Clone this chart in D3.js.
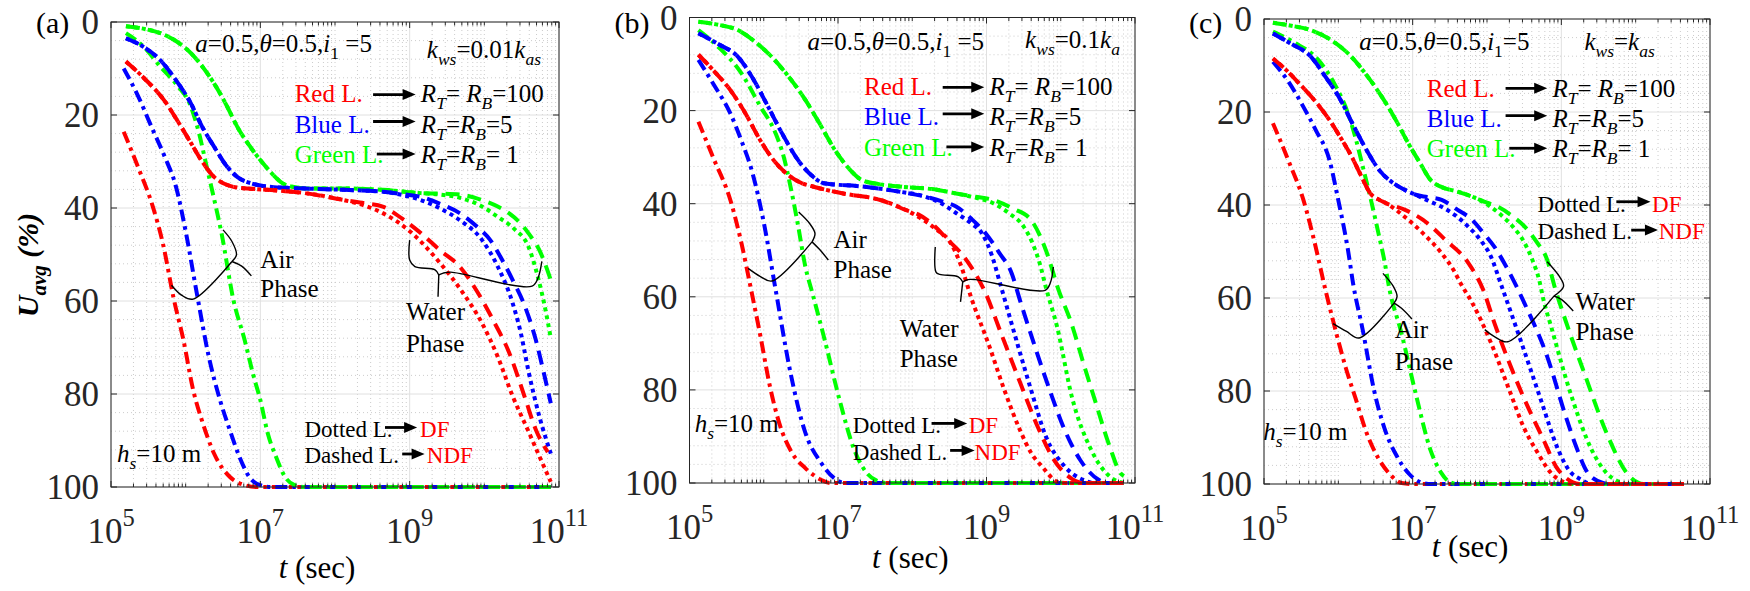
<!DOCTYPE html>
<html lang="en">
<head>
<meta charset="UTF-8">
<title>Average degree of consolidation</title>
<script src="https://d3js.org/d3.v7.min.js"></script>
<style>
  body { margin: 0; background: #fff; }
  svg { display: block; }
  svg text { font-family: "Liberation Serif", "DejaVu Serif", "Times New Roman", serif; }
  .grid-major { stroke: #e0e0e0; stroke-width: 1; }
  .grid-minor { stroke: #c6c6c6; stroke-width: 0.9; stroke-dasharray: 1,3; }
  .frame { stroke: #262626; stroke-width: 1; fill: none; }
  .tick { stroke: #262626; stroke-width: 1; }
  .curve { fill: none; stroke-width: 4; }
  .air { stroke-dasharray: 12,5,3.5,5; }
  .df { stroke-dasharray: 4,4; }
  .ndf { stroke-dasharray: 14,8; }
  .brace { fill: none; stroke: #000; stroke-width: 1.4; }
</style>
</head>
<body>
<svg width="1750" height="591" font-family="Liberation Serif, DejaVu Serif, serif"></svg>
<script>
// all points are [log10(t in sec), Uavg %]
// ---- (a) kws = 0.01 kas
const airRedA = [[5.17,23.6],[5.37,31.5],[5.56,39.7],[5.7,48],[5.84,59.5],[5.97,68.4],[6.1,79.1],[6.23,86.3],[6.38,92.8],[6.59,97.8],[6.79,99.6],[6.95,100],[10.89,100]];
const airBlueA = [[5.17,10],[5.35,15.5],[5.56,23.2],[5.72,29],[5.87,35.4],[6.0,45],[6.15,58.4],[6.31,72],[6.46,81.3],[6.59,87.7],[6.72,93.5],[6.85,97.8],[7.0,99.6],[7.15,100],[10.89,100]];
const airGreenA = [[5.2,2.4],[5.45,5.5],[5.66,9.6],[5.88,13.5],[6.07,18.2],[6.18,24],[6.28,31],[6.38,38],[6.48,45.4],[6.64,59.8],[6.79,68.4],[6.9,75.6],[7.0,81.3],[7.1,88.5],[7.21,93.5],[7.33,97.8],[7.46,99.6],[7.6,100],[10.89,100]];
const waterRedA = [[5.2,8.5],[5.45,12.2],[5.71,16.8],[5.9,21.5],[6.07,26],[6.22,30],[6.38,33.3],[6.55,35],[6.69,35.6],[7.1,36.1],[7.6,36.8],[8.12,38.3]];
const dfRedA = [[8.4,39.5],[8.64,41.1],[9.03,45.4],[9.41,51.9],[9.72,58.4],[9.97,64.8],[10.18,72],[10.38,80.5],[10.59,88],[10.74,93.5],[10.89,98.9]];
const ndfRedA = [[8.4,39],[8.64,39.7],[8.9,42.3],[9.15,45.4],[9.4,49],[9.67,52.6],[9.92,58.4],[10.13,64.5],[10.33,71],[10.54,80.6],[10.69,87.7],[10.85,92.5]];
const waterBlueA = [[5.2,3.5],[5.45,5.5],[5.66,8.2],[5.87,12.5],[6.07,17.5],[6.22,22.5],[6.38,26.8],[6.55,31],[6.69,33.3],[6.9,34.8],[7.1,35.4],[7.6,35.8],[8.12,36.1],[8.64,36.5]];
const dfBlueA = [[8.9,37.2],[9.15,38.3],[9.42,40.2],[9.67,42.6],[9.97,46.9],[10.18,52.6],[10.38,60.5],[10.49,67],[10.59,75],[10.74,85],[10.89,92.8]];
const ndfBlueA = [[8.9,37],[9.15,37.6],[9.42,39.2],[9.67,41.1],[9.9,44],[10.08,46.9],[10.25,51.5],[10.38,55.5],[10.54,61],[10.69,68.4],[10.79,75],[10.89,82]];
const waterGreenA = [[5.2,0.9],[5.45,1.5],[5.66,2.4],[5.88,4.2],[6.07,6.7],[6.22,9.5],[6.38,13.2],[6.55,18],[6.69,22.5],[6.85,26.5],[7.0,29.7],[7.15,32.5],[7.3,34.7],[7.45,35.5],[7.6,35.8],[8.12,35.8],[8.64,36.1],[9.15,36.8]];
const dfGreenA = [[9.4,37.1],[9.67,37.8],[9.95,39.5],[10.18,41.9],[10.4,44.5],[10.59,48.3],[10.72,55],[10.82,62],[10.89,68]];
const ndfGreenA = [[9.4,36.9],[9.67,37.1],[9.95,38.2],[10.18,39.7],[10.4,42],[10.59,45.4],[10.75,49.5],[10.89,55.5]];

// ---- (b) kws = 0.1 ka
const airRedB = [[5.12,22.4],[5.33,30.5],[5.55,39.2],[5.7,48.5],[5.83,58.5],[5.95,68],[6.08,79],[6.21,87.2],[6.38,93.5],[6.56,96.8],[6.77,99.3],[6.9,100],[10.85,100]];
const airBlueB = [[5.12,9.1],[5.33,14.5],[5.55,20.6],[5.7,26.5],[5.85,33.5],[6.0,44],[6.16,58.5],[6.36,76.3],[6.56,89.2],[6.77,95.6],[6.97,99.2],[7.1,100],[10.85,100]];
const airGreenB = [[5.12,2.7],[5.4,6.5],[5.7,12],[5.95,19],[6.16,24.9],[6.27,30],[6.36,36.3],[6.46,44.5],[6.56,53.5],[6.66,59.5],[6.82,69.2],[7.02,82.1],[7.22,92.9],[7.37,97.5],[7.52,99.5],[7.65,100],[10.85,100]];
const waterRedB = [[5.12,8],[5.33,11.5],[5.55,15.6],[5.75,20.5],[5.95,26.3],[6.15,31],[6.36,34.2],[6.5,35.5],[6.66,36.3],[7.07,37.8],[7.57,39.2],[7.92,41.4]];
const dfRedB = [[8.1,43],[8.33,45.6],[8.5,48],[8.65,53],[8.79,60],[9.04,70.7],[9.24,80],[9.45,88.6],[9.6,93.5],[9.75,96.5],[9.95,99.7],[10.05,100],[10.85,100]];
const ndfRedB = [[8.08,42.3],[8.28,44.5],[8.48,47.8],[8.65,50.5],[8.79,53.5],[8.99,59.3],[9.19,67.6],[9.45,78.3],[9.7,88.3],[9.9,94.8],[10.15,99.1],[10.3,100],[10.85,100]];
const waterBlueB = [[5.12,3.4],[5.4,5.8],[5.65,8.4],[5.85,13],[6.06,19.2],[6.25,25],[6.46,30.6],[6.65,34],[6.81,35.6],[7.32,36.3],[7.82,37.4],[8.18,38.5]];
const dfBlueB = [[8.4,40],[8.59,42],[8.8,44.3],[8.94,46.4],[9.07,51],[9.19,57.5],[9.4,69.2],[9.6,80],[9.8,90],[10.05,96.4],[10.3,99.3],[10.45,100],[10.85,100]];
const ndfBlueB = [[8.4,39.5],[8.59,40.6],[8.8,43.3],[8.99,46.4],[9.17,50.5],[9.34,55],[9.45,60.7],[9.65,70.6],[9.85,80],[10.05,88.5],[10.26,95],[10.51,99.3],[10.65,100],[10.85,100]];
const waterGreenB = [[5.12,0.9],[5.4,1.6],[5.65,2.7],[5.85,4.8],[6.06,7.7],[6.3,12],[6.56,17.7],[6.76,23],[6.96,28.5],[7.15,32.5],[7.32,34.9],[7.55,35.8],[7.82,36.3],[8.33,37],[8.59,37.8]];
const dfGreenB = [[8.85,38.7],[9.09,39.9],[9.3,42],[9.5,44.9],[9.62,48.5],[9.72,53],[9.8,58],[9.95,66.4],[10.15,81.5],[10.41,92.9],[10.66,98.6],[10.85,100]];
const ndfGreenB = [[8.85,38.5],[9.09,39.2],[9.35,41],[9.6,43.5],[9.8,50],[9.97,58.5],[10.15,66],[10.3,74],[10.46,82.2],[10.66,92.2],[10.81,98],[10.85,98.5]];

// ---- (c) kws = kas
const airRedC = [[5.12,22.4],[5.33,30.5],[5.53,38.9],[5.68,48],[5.83,58.5],[5.98,68],[6.1,75],[6.23,81.5],[6.38,89],[6.54,94.5],[6.7,98],[6.85,99.8],[7.0,100],[10.65,100]];
const airBlueC = [[5.12,9.2],[5.33,13.5],[5.53,18.9],[5.7,24],[5.88,30.3],[6.0,39],[6.13,49.7],[6.2,57],[6.33,67],[6.48,79.8],[6.62,88],[6.79,94.1],[6.95,97.8],[7.14,99.8],[7.25,100],[10.65,100]];
const airGreenC = [[5.12,2.7],[5.4,5],[5.73,8.8],[5.95,14],[6.13,20.3],[6.23,25.5],[6.33,31.8],[6.44,39],[6.54,46.1],[6.62,52],[6.69,58.3],[6.84,67],[7.04,80.5],[7.24,92.7],[7.38,97.5],[7.49,99.5],[7.6,100],[10.65,100]];
const waterRedC = [[5.12,8.5],[5.3,11],[5.47,13.8],[5.68,17.5],[5.88,21.7],[6.03,25.5],[6.18,29.6],[6.3,33.5],[6.43,37.5],[6.54,38.8],[6.64,39.6]];
const dfRedC = [[6.89,42.5],[7.14,46.1],[7.39,50.4],[7.55,54],[7.65,57],[7.8,61],[8.05,69.5],[8.3,79.8],[8.5,88],[8.66,92.7],[8.91,98.4],[9.16,100],[10.65,100]];
const ndfRedC = [[6.89,41],[7.14,43.2],[7.44,47.5],[7.75,52.5],[7.95,58.3],[8.1,65.4],[8.45,79.8],[8.76,90.5],[8.96,97],[9.26,100],[10.65,100]];
const waterBlueC = [[5.12,3.1],[5.35,5.2],[5.63,8.1],[5.83,12.5],[6.03,17.4],[6.2,22.8],[6.38,28.2],[6.55,32.5],[6.74,35.3],[6.9,36.8],[7.04,37.8]];
const dfBlueC = [[7.2,39],[7.39,40.4],[7.58,42.3],[7.75,44.7],[7.9,47.3],[8.05,51],[8.2,57.6],[8.45,69],[8.71,81.2],[8.96,92.7],[9.1,97],[9.26,99],[9.4,100],[10.65,100]];
const ndfBlueC = [[7.2,38.3],[7.39,38.9],[7.6,41],[7.8,43.2],[7.95,46],[8.1,49],[8.25,53],[8.4,57.6],[8.5,61],[8.81,72.6],[9.06,85.5],[9.2,92],[9.36,97.7],[9.55,99.7],[9.67,100],[10.65,100]];
const waterGreenC = [[5.12,0.8],[5.35,1.4],[5.63,2.4],[5.9,4.5],[6.13,7.4],[6.4,12.5],[6.64,18.1],[6.8,22.5],[6.94,26.7],[7.1,31],[7.24,34.6],[7.4,36.2],[7.6,37.1],[7.8,38.2]];
const dfGreenC = [[8.05,40.4],[8.2,42.3],[8.35,44.7],[8.5,48],[8.61,51.8],[8.7,56],[8.76,60.4],[8.86,66],[9.11,79.8],[9.41,92.7],[9.6,97.5],[9.77,99.5],[9.9,100],[10.65,100]];
const ndfGreenC = [[8.0,39.5],[8.15,40.4],[8.35,42.5],[8.51,44.7],[8.67,48],[8.81,51.8],[8.91,57.6],[9.06,65],[9.31,76.2],[9.61,89.1],[9.92,98.4],[10.12,100],[10.65,100]];

const xTicks = [1e5, 1e7, 1e9, 1e11];
const xTickExp = ["5", "7", "9", "11"];
const yTicks = [0, 20, 40, 60, 80, 100];

const RED = "#ff0000", BLUE = "#0000ff", GREEN = "#00ff00";

// braces drawn along data coordinates
const bracesA = [
  [[6.50,44.7],[6.62,47.2],[6.68,50.1],[6.62,51.5]], [[6.62,51.5],[6.75,52.5],[6.88,54.6]],
  [[6.62,51.5],[6.10,59.6],[5.95,58.8],[5.81,56.6]],
  [[9.0,46.9],[9.0,51.2],[9.07,52.6],[9.34,53.3],[9.39,54.4]], [[9.39,54.4],[9.38,59.1]],
  [[9.39,54.4],[9.45,54.0],[9.55,53.8],[10.64,56.8],[10.72,55],[10.77,51.5]]
];
const bracesB = [
  [[6.47,41.8],[6.62,44.3],[6.69,46.4],[6.65,48.2]], [[6.65,48.2],[6.75,49.8],[6.87,52.1]],
  [[6.65,48.2],[6.11,56.6],[5.95,55.6],[5.79,53.9]],
  [[8.31,49.3],[8.32,54.7],[8.37,55.2],[8.62,55.7],[8.68,56.8]], [[8.68,56.8],[8.65,61.1]],
  [[8.68,56.8],[8.75,56.3],[8.85,56.3],[9.79,58.6],[9.86,57],[9.9,53.6]]
];
const bracesC = [
  [[6.60,54.7],[6.74,57.5],[6.79,59.7],[6.75,61.1]], [[6.75,61.1],[6.85,62.2],[6.99,64.5]],
  [[6.75,61.1],[6.28,68.6],[6.11,67.2],[5.93,65.5]],
  [[8.81,52.2],[8.98,55.5],[9.03,57.5],[8.90,59.6]], [[8.90,59.6],[9.0,60.3],[9.16,62.8]],
  [[8.90,59.6],[8.28,69.4],[8.1,68.3],[7.97,66.8]]
];

const panels = [
  {
    name: "(a)", left: 111, right: 559, top: 22, bottom: 487, xlabShift: -18, xlabY: 578,
    air: [airRedA, airBlueA, airGreenA],
    water: [[waterGreenA, dfGreenA, ndfGreenA, GREEN], [waterBlueA, dfBlueA, ndfBlueA, BLUE], [waterRedA, dfRedA, ndfRedA, RED]],
    params: [6.13, 6.4, " =5"], kws: [9.23, 7.8, "=0.01", "as"],
    legend: { label: 7.46, a0: [8.51, 8.51, 8.56], a1: 9.08, r: 9.15, rows: [17.1, 23.8, 30.3], arrows: [15.6, 21.4, 28.4] },
    air_txt: [7.0, 53, 59.1], water_txt: [8.95, 64.1, 70.9], hs: [5.08, 94.6],
    lines: { x: 7.59, rows: [89.2, 94.9], arrows: [[8.67, 9.1, 87.2], [8.9, 9.2, 92.9]], ends: [9.14, 9.23] },
    braces: bracesA, ylabel: true
  },
  {
    name: "(b)", left: 689.5, right: 1135, top: 17.5, bottom: 483, xlabShift: -2, xlabY: 568,
    air: [airRedB, airBlueB, airGreenB],
    water: [[waterGreenB, dfGreenB, ndfGreenB, GREEN], [waterBlueB, dfBlueB, ndfBlueB, BLUE], [waterRedB, dfRedB, ndfRedB, RED]],
    params: [6.59, 7.0, " =5"], kws: [9.52, 6.6, "=0.1", "a"],
    legend: { label: 7.35, a0: [8.41, 8.41, 8.46], a1: 8.97, r: 9.04, rows: [16.6, 23.1, 29.7], arrows: [15, 20.7, 27.8] },
    air_txt: [6.94, 49.6, 56], water_txt: [7.83, 68.6, 75], hs: [5.07, 89],
    lines: { x: 7.2, rows: [89.3, 95], arrows: [[8.26, 8.74, 87.2], [8.51, 8.84, 93]], ends: [8.76, 8.84] },
    braces: bracesB, ylabel: false
  },
  {
    name: "(c)", left: 1264, right: 1710, top: 19, bottom: 484, xlabShift: -17, xlabY: 557,
    air: [airRedC, airBlueC, airGreenC],
    water: [[waterGreenC, dfGreenC, ndfGreenC, GREEN], [waterBlueC, dfBlueC, ndfBlueC, BLUE], [waterRedC, dfRedC, ndfRedC, RED]],
    params: [6.28, 6.7, "=5"], kws: [9.31, 6.7, "=", "as"],
    legend: { label: 7.19, a0: [8.25, 8.25, 8.30], a1: 8.81, r: 8.88, rows: [16.7, 23.3, 29.7], arrows: [14.9, 20.8, 27.8] },
    air_txt: [6.76, 68.7, 75.5], water_txt: [9.19, 62.6, 69], hs: [4.99, 90.5],
    lines: { x: 8.68, rows: [41.4, 47.4], arrows: [[9.74, 10.2, 39.3], [9.94, 10.3, 45.4]], ends: [10.22, 10.31] },
    braces: bracesC, ylabel: false
  }
];

const svg = d3.select("svg");
const FONT = "'Liberation Serif', 'DejaVu Serif', serif";

// text with italic / sub / superscript pieces
function rich(g, x, y, parts, size, anchor) {
  const t = g.append("text").attr("x", x).attr("y", y).attr("font-size", size)
    .attr("fill", "#000").style("font-family", FONT);
  if (anchor) t.attr("text-anchor", anchor);
  let shift = 0;
  parts.forEach(p => {
    const s = t.append("tspan").text(p.s);
    const target = p.sub ? size * 0.28 : p.sup ? -size * 0.5 : 0;
    s.attr("dy", target - shift);
    shift = target;
    if (p.sub || p.sup) s.attr("font-size", size * 0.7);
    if (p.i) s.attr("font-style", "italic");
    if (p.c) s.attr("fill", p.c);
  });
  return t;
}

function arrow(g, x1, x2, y) {
  g.append("line").attr("x1", x1).attr("x2", x2 - 8).attr("y1", y).attr("y2", y)
    .attr("stroke", "#000").attr("stroke-width", 2.8);
  g.append("path").attr("d", `M${x2},${y} L${x2 - 13},${y - 5.5} L${x2 - 13},${y + 5.5} Z`).attr("fill", "#000");
}

function rParts(val) {
  return [{ s: "R", i: 1 }, { s: "T", i: 1, sub: 1 }, { s: "=" + (val === "100" ? " " : "") }, { s: "R", i: 1 }, { s: "B", i: 1, sub: 1 }, { s: "=" + (val === "1" ? " " : "") + val }];
}

panels.forEach(p => {
  const g = svg.append("g");
  const x = d3.scaleLog().domain([1e5, 1e11]).range([p.left, p.right]);
  const y = d3.scaleLinear().domain([0, 100]).range([p.top, p.bottom]);
  const X = e => x(Math.pow(10, e));

  // minor grid
  const minorX = [];
  for (let d = 5; d < 11; d++) for (let k = 1; k < 10; k++) {
    const v = k * Math.pow(10, d);
    if (!(k === 1 && d % 2 === 1)) minorX.push(v);
  }
  const minorY = d3.range(0, 101, 4).filter(v => v % 20 !== 0);
  g.selectAll(".mx").data(minorX).join("line").attr("class", "grid-minor")
    .attr("x1", d => x(d)).attr("x2", d => x(d)).attr("y1", p.top).attr("y2", p.bottom);
  g.selectAll(".my").data(minorY).join("line").attr("class", "grid-minor")
    .attr("x1", p.left).attr("x2", p.right).attr("y1", d => y(d)).attr("y2", d => y(d));
  // major grid
  g.selectAll(".gx").data(xTicks).join("line").attr("class", "grid-major")
    .attr("x1", d => x(d)).attr("x2", d => x(d)).attr("y1", p.top).attr("y2", p.bottom);
  g.selectAll(".gy").data(yTicks).join("line").attr("class", "grid-major")
    .attr("x1", p.left).attr("x2", p.right).attr("y1", d => y(d)).attr("y2", d => y(d));

  // curves
  const line = d3.line().x(d => X(d[0])).y(d => y(d[1])).curve(d3.curveMonotoneX);
  const airColors = [RED, BLUE, GREEN];
  p.air.forEach((c, i) => {
    g.append("path").attr("class", "curve air").attr("stroke", airColors[i]).attr("d", line(c));
  });
  p.water.forEach(([shared, df, ndf, col]) => {
    g.append("path").attr("class", "curve ndf").attr("stroke", col).attr("d", line(shared.concat(ndf)));
    g.append("path").attr("class", "curve df").attr("stroke", col).attr("d", line(shared.concat(df)));
  });

  // frame and ticks
  g.append("rect").attr("class", "frame").attr("x", p.left).attr("y", p.top)
    .attr("width", p.right - p.left).attr("height", p.bottom - p.top);
  yTicks.forEach(v => {
    g.append("line").attr("class", "tick").attr("x1", p.left).attr("x2", p.left + 6).attr("y1", y(v)).attr("y2", y(v));
    g.append("line").attr("class", "tick").attr("x1", p.right).attr("x2", p.right - 6).attr("y1", y(v)).attr("y2", y(v));
  });
  xTicks.forEach(v => {
    g.append("line").attr("class", "tick").attr("x1", x(v)).attr("x2", x(v)).attr("y1", p.bottom).attr("y2", p.bottom - 6);
    g.append("line").attr("class", "tick").attr("x1", x(v)).attr("x2", x(v)).attr("y1", p.top).attr("y2", p.top + 6);
  });
  minorX.forEach(v => {
    g.append("line").attr("class", "tick").attr("x1", x(v)).attr("x2", x(v)).attr("y1", p.bottom).attr("y2", p.bottom - 3.5);
    g.append("line").attr("class", "tick").attr("x1", x(v)).attr("x2", x(v)).attr("y1", p.top).attr("y2", p.top + 3.5);
  });

  // tick labels
  yTicks.forEach(v => {
    g.append("text").attr("x", p.left - 12).attr("y", y(v)).attr("dy", "0.35em")
      .style("font-family", FONT)
      .attr("text-anchor", "end").attr("font-size", 35).attr("fill", "#262626").text(v);
  });
  xTicks.forEach((v, i) => {
    const t = rich(g, x(v), p.bottom + 56, [{ s: "10" }, { s: xTickExp[i], sup: 1 }], 35, "middle");
    t.attr("fill", "#262626");
  });

  // axis labels
  rich(g, (p.left + p.right) / 2 + p.xlabShift, p.xlabY, [{ s: "t", i: 1 }, { s: " (sec)" }], 31, "middle");
  if (p.ylabel) {
    rich(g, 0, 0, [{ s: "U", i: 1 }, { s: "avg", i: 1, sub: 1 }, { s: " (%)", i: 1 }], 30, "middle")
      .attr("font-weight", "bold").attr("transform", "translate(38,265) rotate(-90)");
  }
  g.append("text").attr("x", p.left - 75).attr("y", 33).attr("font-size", 30)
    .style("font-family", FONT).text(p.name);

  // braces
  const bl = d3.line().x(d => X(d[0])).y(d => y(d[1])).curve(d3.curveCatmullRom.alpha(0.5));
  p.braces.forEach(b => g.append("path").attr("class", "brace").attr("d", bl(b)));

  // annotations
  const fs = 25;
  rich(g, X(p.params[0]), y(p.params[1]), [{ s: "a", i: 1 }, { s: "=0.5," }, { s: "θ", i: 1 }, { s: "=0.5," }, { s: "i", i: 1 }, { s: "1", sub: 1 }, { s: p.params[2] }], fs);
  const kParts = [{ s: "k", i: 1 }, { s: "ws", i: 1, sub: 1 }, { s: p.kws[2] }, { s: "k", i: 1 }, { s: p.kws[3], i: 1, sub: 1 }];
  rich(g, X(p.kws[0]), y(p.kws[1]), kParts, fs);

  const names = ["Red L.", "Blue L.", "Green L."];
  const vals = ["100", "5", "1"];
  const L = p.legend;
  names.forEach((n, i) => {
    rich(g, X(L.label), y(L.rows[i]), [{ s: n, c: airColors[i] }], fs);
    arrow(g, X(L.a0[i]), X(L.a1), y(L.arrows[i]));
    rich(g, X(L.r), y(L.rows[i]), rParts(vals[i]), fs);
  });

  rich(g, X(p.air_txt[0]), y(p.air_txt[1]), [{ s: "Air" }], fs);
  rich(g, X(p.air_txt[0]), y(p.air_txt[2]), [{ s: "Phase" }], fs);
  rich(g, X(p.water_txt[0]), y(p.water_txt[1]), [{ s: "Water" }], fs);
  rich(g, X(p.water_txt[0]), y(p.water_txt[2]), [{ s: "Phase" }], fs);
  rich(g, X(p.hs[0]), y(p.hs[1]), [{ s: "h", i: 1 }, { s: "s", i: 1, sub: 1 }, { s: "=10 m" }], fs);

  const ln = p.lines;
  [["Dotted L.", "DF"], ["Dashed L.", "NDF"]].forEach(([a, b], i) => {
    rich(g, X(ln.x), y(ln.rows[i]), [{ s: a }], 23);
    arrow(g, X(ln.arrows[i][0]), X(ln.arrows[i][1]), y(ln.arrows[i][2]));
    rich(g, X(ln.ends[i]), y(ln.rows[i]), [{ s: b, c: RED }], 23);
  });
});
</script>
</body>
</html>
